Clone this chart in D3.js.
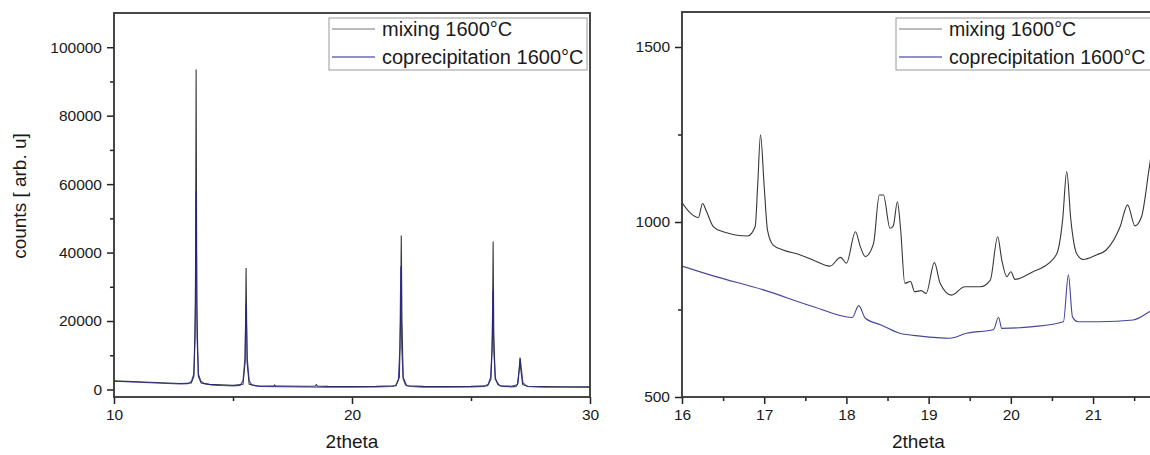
<!DOCTYPE html>
<html>
<head>
<meta charset="utf-8">
<script src="https://cdn.jsdelivr.net/npm/d3@7"></script>
<style>
  body { margin: 0; background: #fff; }
  svg { display: block; font-family: "Liberation Sans", Arial, sans-serif; }
</style>
</head>
<body>
<svg id="chart" width="1150" height="455"></svg>
<script>
// full scan 10-30 deg
const mixWideX = [10, 11, 12, 12.8, 13.25, 13.36, 13.42, 13.45, 13.48, 13.54, 13.66, 14, 14.5, 15, 15.42, 15.51, 15.55, 15.59, 15.68, 16, 16.7, 16.75, 16.8, 17, 18, 18.45, 18.5, 18.55, 19, 20, 21, 21.85, 21.99, 22.04, 22.07, 22.1, 22.15, 22.3, 23, 24, 25, 25.7, 25.84, 25.9, 25.93, 25.96, 26.02, 26.2, 26.7, 26.95, 27.03, 27.06, 27.09, 27.17, 27.4, 28, 29, 30]
const mixWideY = [2500, 2250, 1950, 1750, 1900, 4000, 25000, 93500, 25000, 4000, 1900, 1500, 1350, 1250, 1500, 8000, 35500, 8000, 1500, 1100, 1000, 1300, 1000, 1000, 950, 1000, 1400, 1000, 900, 850, 900, 1100, 3500, 20000, 45000, 20000, 3500, 1100, 900, 850, 900, 1100, 3000, 15000, 43200, 15000, 3000, 1100, 950, 1400, 6000, 9300, 6000, 1400, 950, 850, 800, 750]

const copWideX = [10, 11, 12, 12.8, 13.1, 13.25, 13.35, 13.41, 13.45, 13.49, 13.55, 13.65, 13.8, 14.1, 14.5, 15, 15.3, 15.42, 15.5, 15.55, 15.6, 15.68, 15.8, 16.1, 17, 18, 19, 20, 21, 21.7, 21.85, 21.95, 22.01, 22.05, 22.09, 22.15, 22.25, 22.45, 23, 24, 25, 25.55, 25.72, 25.82, 25.88, 25.92, 25.96, 26.02, 26.12, 26.3, 26.7, 26.9, 26.98, 27.03, 27.07, 27.11, 27.18, 27.35, 28, 29, 30]
const copWideY = [2400, 2100, 1800, 1600, 1700, 2300, 4500, 15000, 58000, 15000, 4500, 2400, 1700, 1350, 1150, 1050, 1200, 2500, 9000, 25000, 9000, 2500, 1200, 900, 800, 720, 680, 700, 720, 850, 1300, 3000, 12000, 36000, 12000, 3000, 1300, 850, 700, 700, 720, 900, 1500, 3500, 11000, 29000, 11000, 3500, 1500, 900, 760, 900, 2000, 6500, 9000, 6500, 2000, 850, 680, 650, 640]

// detail 16-21.7 deg
const mixZoomX = [16.0, 16.2, 16.25, 16.3, 16.38, 16.5, 16.8, 16.89, 16.92, 16.955, 17.0, 17.04, 17.11, 17.23, 17.44, 17.6, 17.8, 17.93, 18.0, 18.11, 18.17, 18.23, 18.33, 18.4, 18.45, 18.53, 18.57, 18.62, 18.66, 18.71, 18.78, 18.83, 18.91, 18.97, 19.07, 19.14, 19.28, 19.44, 19.63, 19.75, 19.84, 19.89, 19.95, 20.0, 20.05, 20.27, 20.4, 20.56, 20.63, 20.68, 20.73, 20.8, 20.88, 21.04, 21.16, 21.33, 21.42, 21.51, 21.59, 21.68, 21.75]
const mixZoomY = [1055, 1013, 1053, 1029, 987, 972, 960, 987, 1101, 1249, 1101, 977, 934, 920, 906, 891, 874, 899, 882, 972, 929, 901, 939, 1077, 1077, 982, 989, 1058, 977, 825, 830, 801, 804, 796, 884, 825, 791, 815, 815, 834, 958, 891, 844, 858, 836, 858, 872, 910, 1006, 1144, 1006, 910, 893, 906, 920, 987, 1049, 989, 1015, 1149, 1260]

const copZoomX = [16.0, 16.38, 16.99, 17.6, 18.07, 18.15, 18.23, 18.42, 18.65, 18.9, 19.26, 19.46, 19.79, 19.85, 19.89, 20.27, 20.64, 20.7, 20.75, 20.82, 21.08, 21.49, 21.69, 21.75]
const copZoomY = [874, 846, 806, 758, 727, 761, 725, 706, 682, 674, 668, 682, 693, 728, 696, 701, 715, 849, 729, 715, 715, 720, 744, 752]

const seriesNames = ["mixing 1600°C", "coprecipitation 1600°C"]
const seriesColors = ["#222222", "#25258c"]
const legendColors = ["#777777", "#25258c"]

const wideXTicks = [10, 20, 30]
const wideXMinor = [15, 25]
const wideYTicks = [0, 20000, 40000, 60000, 80000, 100000]
const wideYMinor = [10000, 30000, 50000, 70000, 90000]
const zoomXTicks = [16, 17, 18, 19, 20, 21]
const zoomXMinor = [16.5, 17.5, 18.5, 19.5, 20.5, 21.5]
const zoomYTicks = [500, 1000, 1500]
const zoomYMinor = [750, 1250]

const svg = d3.select("#chart")

const panel = (opt) => {
    const { x, y, id } = opt
    const [x0, x1] = x.range()
    const [yb, yt] = y.range()

    svg.append("clipPath").attr("id", id)
        .append("rect")
        .attr("x", x0).attr("y", yt)
        .attr("width", x1 - x0).attr("height", yb - yt)

    const g = svg.append("g")

    // minor ticks
    g.append("g")
        .attr("transform", `translate(${x0},0)`)
        .call(d3.axisLeft(y).tickValues(opt.yMinor).tickSize(4).tickFormat(""))
    g.append("g")
        .attr("transform", `translate(0,${yb})`)
        .call(d3.axisBottom(x).tickValues(opt.xMinor).tickSize(4).tickFormat(""))

    // major ticks
    g.append("g")
        .attr("transform", `translate(${x0},0)`)
        .call(d3.axisLeft(y).tickValues(opt.yTicks).tickSize(7).tickPadding(5).tickFormat(d3.format("d")))
    g.append("g")
        .attr("transform", `translate(0,${yb})`)
        .call(d3.axisBottom(x).tickValues(opt.xTicks).tickSize(7).tickPadding(5).tickFormat(d3.format("d")))

    g.selectAll(".domain").remove()
    g.selectAll(".tick line").attr("stroke", "#222").attr("stroke-width", 1.5)
    g.selectAll(".tick text")
        .attr("fill", "#1a1a1a")
        .style("font-size", "15.5px")
        .style("font-family", "'Liberation Sans', Arial, sans-serif")

    // curves
    const line = d3.line().curve(opt.curve).x(d => x(d[0])).y(d => y(d[1]))
    const curves = svg.append("g").attr("clip-path", `url(#${id})`).attr("fill", "none")
    opt.series.forEach((s, i) => {
        curves.append("path")
            .datum(d3.zip(s[0], s[1]))
            .attr("d", line)
            .attr("stroke", seriesColors[i])
            .attr("stroke-opacity", i === 0 ? 0.9 : 0.85)
            .attr("stroke-width", 1.1)
    })

    // frame
    svg.append("rect")
        .attr("x", x0).attr("y", yt)
        .attr("width", x1 - x0).attr("height", yb - yt)
        .attr("fill", "none")
        .attr("stroke", "#333")
        .attr("stroke-width", 1.8)

    // x title
    svg.append("text")
        .attr("x", (x0 + x1) / 2)
        .attr("y", 448)
        .attr("text-anchor", "middle")
        .attr("fill", "#1a1a1a")
        .style("font-size", "19px")
        .text("2theta")

    // legend
    const lg = svg.append("g").attr("transform", `translate(${opt.legend[0]},${opt.legend[1]})`)
    lg.append("rect")
        .attr("width", opt.legend[2]).attr("height", 52)
        .attr("fill", "#fff")
        .attr("stroke", "#999")
        .attr("stroke-width", 1)
    seriesNames.forEach((name, i) => {
        const ly = 11 + i * 28
        lg.append("line")
            .attr("x1", 3).attr("x2", 46)
            .attr("y1", ly).attr("y2", ly)
            .attr("stroke", legendColors[i])
            .attr("stroke-width", 1.2)
        lg.append("text")
            .attr("x", 53).attr("y", ly + 7)
            .attr("fill", "#1a1a1a")
            .style("font-size", opt.legendFont)
            .text(name)
    })
}

panel({
    id: "clipWide",
    x: d3.scaleLinear().domain([10, 30]).range([114, 590]),
    y: d3.scaleLinear().domain([-2200, 110000]).range([397, 13]),
    xTicks: wideXTicks, xMinor: wideXMinor,
    yTicks: wideYTicks, yMinor: wideYMinor,
    series: [[mixWideX, mixWideY], [copWideX, copWideY]],
    curve: d3.curveLinear,
    legend: [329, 18, 258],
    legendFont: "20px"
})

panel({
    id: "clipZoom",
    x: d3.scaleLinear().domain([16, 21.75]).range([682, 1154.7]),
    y: d3.scaleLinear().domain([500, 1600]).range([397, 12]),
    xTicks: zoomXTicks, xMinor: zoomXMinor,
    yTicks: zoomYTicks, yMinor: zoomYMinor,
    series: [[mixZoomX, mixZoomY], [copZoomX, copZoomY]],
    curve: d3.curveMonotoneX,
    legend: [896, 18, 270],
    legendFont: "19.5px"
})

// y title (left panel only)
svg.append("text")
    .attr("transform", "translate(26,196) rotate(-90)")
    .attr("text-anchor", "middle")
    .attr("fill", "#1a1a1a")
    .style("font-size", "19px")
    .text("counts [ arb. u]")
</script>
</body>
</html>
